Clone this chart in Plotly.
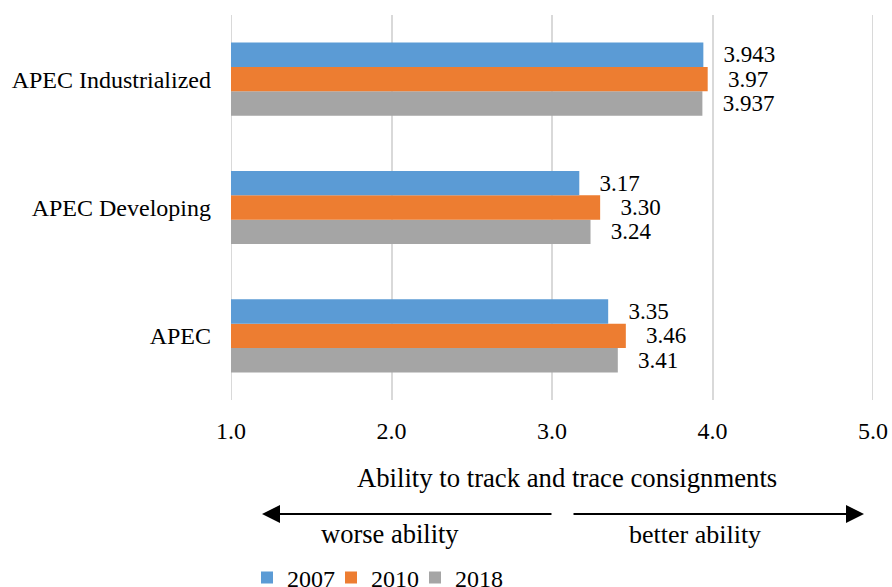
import plotly.graph_objects as go

categories = ["APEC", "APEC Developing", "APEC Industrialized"]
years = ["2007", "2010", "2018"]
values_2007 = [3.35, 3.17, 3.943]
values_2010 = [3.46, 3.30, 3.97]
values_2018 = [3.41, 3.24, 3.937]
labels_2007 = ["3.35", "3.17", "3.943"]
labels_2010 = ["3.46", "3.30", "3.97"]
labels_2018 = ["3.41", "3.24", "3.937"]
colors = {"2007": "#5B9BD5", "2010": "#ED7D31", "2018": "#A5A5A5"}
x_ticks = [1, 2, 3, 4, 5]
x_tick_labels = ["1.0", "2.0", "3.0", "4.0", "5.0"]

series = {
    "2007": (values_2007, labels_2007),
    "2010": (values_2010, labels_2010),
    "2018": (values_2018, labels_2018),
}

FONT = "Liberation Serif, Times New Roman, serif"
PAD = "\u00a0\u00a0\u00a0"
GRID = "#d9d9d9"

H = 385.0  # plot height in px
BOT = 400.0  # plot bottom in px
L = 231.0
W = 642.0


def py(pix):
    return (BOT - pix) / H


def px(pix):
    return (pix - L) / W


legend_ids = {"2007": "legend", "2010": "legend2", "2018": "legend3"}
legend_left = {"2007": 247, "2010": 331, "2018": 415}

fig = go.Figure()
for yr in reversed(years):
    vals, labs = series[yr]
    fig.add_trace(go.Bar(
        y=categories, x=vals, base=0, orientation="h", name=yr,
        legend=legend_ids[yr],
        marker=dict(color=colors[yr], line=dict(width=0)),
        text=[PAD + l for l in labs], textposition="outside",
        textfont=dict(family=FONT, size=23, color="#000"),
        constraintext="none", cliponaxis=False,
    ))

legend_common = dict(orientation="h", y=py(578), xanchor="left", yanchor="middle",
                     font=dict(size=24), itemwidth=30, bgcolor="rgba(0,0,0,0)")

fig.update_layout(
    width=892, height=587,
    margin=dict(l=231, r=19, t=15, b=187, autoexpand=False),
    paper_bgcolor="white", plot_bgcolor="white",
    barmode="group", bargap=0.43, bargroupgap=0,
    font=dict(family=FONT, size=24, color="#000"),
    showlegend=True,
    legend=dict(x=px(legend_left["2007"]), **legend_common),
    legend2=dict(x=px(legend_left["2010"]), **legend_common),
    legend3=dict(x=px(legend_left["2018"]), **legend_common),
    xaxis=dict(range=[1, 5], tickvals=x_ticks, ticktext=x_tick_labels,
               showgrid=True, gridcolor=GRID, gridwidth=2,
               zeroline=False, showline=False, ticks="", ticklabelstandoff=14,
               automargin=False, tickfont=dict(size=24)),
    yaxis=dict(categoryorder="array", categoryarray=categories,
               showgrid=False, zeroline=False, showline=False, ticks="",
               ticklabelstandoff=19, automargin=False, tickfont=dict(size=24)),
)

# gridlines at the axis edges (plotly omits them at the range boundaries)
for t in (x_ticks[0], x_ticks[-1]):
    fig.add_shape(type="line", xref="x", yref="paper", x0=t, x1=t, y0=0, y1=1,
                  line=dict(color=GRID, width=2), layer="below")

fig.add_annotation(text="Ability to track and trace consignments", xref="paper", yref="paper",
                   x=px(567), y=py(478), showarrow=False, xanchor="center", yanchor="middle",
                   font=dict(size=26.7))

ay = py(514)
fig.add_annotation(x=1.193, y=ay, xref="x", yref="paper", ax=291, ay=0, axref="pixel", ayref="pixel",
                   showarrow=True, arrowhead=2, arrowsize=1.8, arrowwidth=2, arrowcolor="#000", text="")
fig.add_annotation(x=4.944, y=ay, xref="x", yref="paper", ax=-292, ay=0, axref="pixel", ayref="pixel",
                   showarrow=True, arrowhead=2, arrowsize=1.8, arrowwidth=2, arrowcolor="#000", text="")
fig.add_annotation(text="worse ability", x=1.99, y=py(534), xref="x", yref="paper",
                   showarrow=False, xanchor="center", yanchor="middle", font=dict(size=26.5))
fig.add_annotation(text="better ability", x=3.888, y=py(534), xref="x", yref="paper",
                   showarrow=False, xanchor="center", yanchor="middle", font=dict(size=26))

fig.write_html(
    "out.html",
    config={"displayModeBar": False},
    post_script="document.body.style.margin='0';document.body.style.overflow='hidden';",
)
